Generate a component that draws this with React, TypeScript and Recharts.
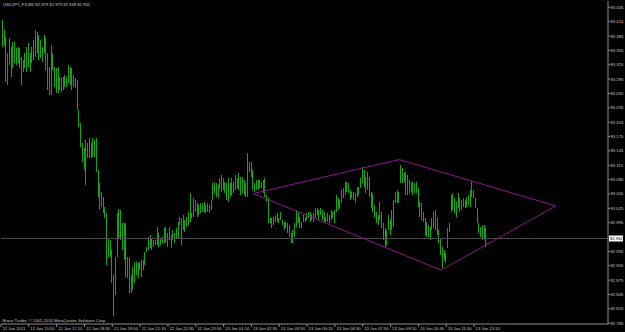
import { ComposedChart, Bar, XAxis, YAxis, ReferenceLine } from 'recharts';

const symbol = 'USDJPY_FX,M5';
const headerQuote = ['82.979', '82.979', '82.948', '82.962'];
const footerText = 'Broco Trader, \u00a9 2001-2010 MetaQuotes Software Corp.';
const lastPrice = 82.962;

const timeLabels = [
  '12 Jan 2011', '12 Jan 15:50', '12 Jan 17:10', '12 Jan 18:30', '12 Jan 19:50', '12 Jan 21:10',
  '12 Jan 22:30', '12 Jan 23:50', '13 Jan 01:10', '13 Jan 02:30', '13 Jan 03:50', '13 Jan 05:10',
  '13 Jan 06:30', '13 Jan 07:50', '13 Jan 09:10', '13 Jan 10:30', '13 Jan 11:50', '13 Jan 13:10',
];
const timeTickBars = [0, 16, 32, 48, 64, 80, 96, 112, 128, 144, 160, 176, 192, 208, 224, 240, 256, 272];

const priceTicks = [
  83.445, 83.415, 83.385, 83.355, 83.325, 83.295, 83.265, 83.235, 83.205, 83.175, 83.145, 83.115,
  83.085, 83.055, 83.025, 82.995, 82.935, 82.905, 82.875, 82.845, 82.815, 82.785,
];

// M5 bar highs / lows
const highs = [
  83.412, 83.418, 83.398, 83.383, 83.349, 83.381, 83.362, 83.372, 83.372, 83.360,
  83.362, 83.360, 83.341, 83.335, 83.349, 83.362, 83.370, 83.349, 83.362, 83.377,
  83.398, 83.393, 83.387, 83.377, 83.362, 83.387, 83.381, 83.349, 83.320, 83.366,
  83.349, 83.320, 83.318, 83.320, 83.299, 83.297, 83.299, 83.304, 83.299, 83.324,
  83.320, 83.318, 83.304, 83.297, 83.293, 83.230, 83.203, 83.162, 83.151, 83.168,
  83.162, 83.172, 83.162, 83.172, 83.168, 83.172, 83.105, 83.078, 83.059, 83.049,
  83.028,
  83.015, 82.963, 82.959, 82.938, 82.886, 82.923, 83.015, 83.024, 83.021, 82.994,
  82.994, 82.994, 82.923, 82.923, 82.886, 82.902, 82.913, 82.913, 82.911, 82.913,
  82.917, 82.917, 82.934, 82.944, 82.965, 82.969, 82.963, 82.959, 82.959, 82.986,
  82.973, 82.963, 82.965, 82.984, 82.986, 82.973, 82.986, 82.969, 82.980, 82.973,
  82.984, 82.996, 83.007, 83.005, 83.011, 83.001, 83.007, 83.017, 83.057, 83.015,
  83.047, 83.042, 83.036, 83.032, 83.036, 83.036, 83.038, 83.032, 83.036, 83.032,
  83.042, 83.078, 83.080, 83.078, 83.074, 83.088, 83.095, 83.088, 83.080, 83.078,
  83.088, 83.078, 83.088, 83.080, 83.095, 83.088,
  83.099, 83.090, 83.090, 83.084, 83.078, 83.141, 83.122, 83.122, 83.105, 83.078,
  83.084, 83.084, 83.084, 83.080, 83.084, 83.088, 83.053, 83.047, 83.005, 83.005,
  83.007, 83.011, 83.015, 83.005, 83.017, 83.001, 82.996, 82.996, 82.994, 82.990,
  82.973, 82.980, 82.994, 83.021, 83.017, 83.007, 82.996, 83.011, 83.007, 83.015,
  83.017, 83.017, 83.011, 83.015, 83.026, 83.026, 83.021, 83.026, 83.021, 83.017,
  83.007, 83.015, 83.011, 83.021, 83.017, 83.021, 83.053, 83.047, 83.042, 83.063,
  83.067, 83.080, 83.080, 83.078, 83.063, 83.059, 83.059, 83.057, 83.070, 83.070,
  83.088, 83.111, 83.105, 83.090,
  83.101, 83.090, 83.059, 83.057, 83.032, 83.017, 83.011, 83.038, 83.017, 82.994,
  82.984, 82.980, 83.011, 83.001, 83.021, 83.042, 83.059, 83.063, 83.059, 83.116,
  83.109, 83.099, 83.101, 83.095, 83.084, 83.080, 83.080, 83.078, 83.080, 83.067,
  83.038, 83.036, 83.017, 83.005, 82.996, 82.990, 82.986, 83.005, 83.017, 83.021,
  83.005, 82.980, 82.963, 82.944, 82.938, 82.932, 82.984, 82.994, 83.053, 83.057,
  83.047, 83.038, 83.057, 83.047, 83.042, 83.047, 83.042, 83.049, 83.053, 83.063,
  83.080, 83.063, 83.047, 83.026, 82.994, 82.986, 82.990, 82.990, 82.984,
];
const lows = [
  83.351, 83.362, 83.366, 83.289, 83.283, 83.324, 83.299, 83.318, 83.329, 83.324,
  83.329, 83.318, 83.283, 83.310, 83.318, 83.310, 83.320, 83.310, 83.329, 83.335,
  83.341, 83.349, 83.335, 83.339, 83.331, 83.349, 83.314, 83.272, 83.262, 83.262,
  83.314, 83.279, 83.266, 83.266, 83.272, 83.268, 83.272, 83.279, 83.279, 83.287,
  83.283, 83.272, 83.279, 83.276, 83.230, 83.195, 83.153, 83.122, 83.105, 83.074,
  83.130, 83.130, 83.130, 83.132, 83.132, 83.101, 83.049, 83.021, 83.028, 83.015,
  83.005,
  82.907, 82.923, 82.923, 82.869, 82.800, 82.844, 82.923, 82.963, 82.959, 82.938,
  82.917, 82.882, 82.880, 82.848, 82.848, 82.854, 82.869, 82.886, 82.880, 82.896,
  82.882, 82.896, 82.907, 82.934, 82.938, 82.942, 82.938, 82.944, 82.948, 82.948,
  82.944, 82.948, 82.953, 82.953, 82.955, 82.944, 82.959, 82.942, 82.959, 82.953,
  82.963, 82.963, 82.990, 82.948, 82.980, 82.976, 82.986, 82.990, 82.996, 83.005,
  83.007, 83.017, 83.007, 83.011, 83.015, 83.017, 83.017, 83.015, 83.017, 83.015,
  83.021, 83.042, 83.057, 83.049, 83.047, 83.067, 83.059, 83.063, 83.057, 83.042,
  83.038, 83.049, 83.053, 83.057, 83.063, 83.067,
  83.063, 83.053, 83.057, 83.053, 83.049, 83.049, 83.101, 83.090, 83.063, 83.059,
  83.063, 83.063, 83.067, 83.067, 83.057, 83.049, 83.038, 82.994, 82.994, 82.984,
  82.990, 82.996, 82.996, 82.994, 83.001, 82.990, 82.980, 82.984, 82.973, 82.965,
  82.953, 82.953, 82.965, 82.986, 82.994, 82.984, 82.984, 82.996, 82.996, 83.001,
  83.005, 82.996, 83.001, 82.996, 83.005, 83.011, 83.001, 83.011, 83.001, 82.996,
  82.996, 82.996, 82.994, 83.001, 83.005, 82.994, 83.017, 83.021, 83.026, 83.036,
  83.047, 83.053, 83.059, 83.057, 83.042, 83.047, 83.042, 83.036, 83.049, 83.053,
  83.067, 83.078, 83.070, 83.057,
  83.063, 83.049, 83.026, 83.017, 83.005, 82.994, 82.990, 83.001, 82.984, 82.959,
  82.944, 82.948, 82.980, 82.969, 82.980, 82.986, 83.036, 83.036, 83.036, 83.078,
  83.078, 83.080, 83.053, 83.053, 83.057, 83.059, 83.053, 83.057, 83.057, 83.028,
  83.007, 83.001, 82.996, 82.969, 82.965, 82.965, 82.959, 82.980, 82.984, 82.980,
  82.969, 82.953, 82.928, 82.900, 82.917, 82.911, 82.942, 82.976, 83.017, 83.021,
  83.015, 83.007, 83.026, 83.017, 83.021, 83.028, 83.026, 83.028, 83.032, 83.028,
  83.049, 83.047, 83.026, 82.994, 82.973, 82.965, 82.959, 82.963, 82.944,
];

// diamond trendlines: [bar index, price]
const diamondLeft = [145, 83.056];
const diamondTop = [229, 83.127];
const diamondRight = [319, 83.03];
const diamondBottom = [253, 82.896];

const data = highs.map((h, i) => ({ bar: i, range: [lows[i], h] }));

const AXIS = '#8c8c8c';
const TEXT = '#c8c8c8';
const FONT = 'Liberation Sans, Arial, sans-serif';
const MAGENTA = '#8e168e';
const GREEN = '#10a810';

const TimeTick = (props: any) => {
  const { x, y, payload } = props;
  const label = timeLabels[timeTickBars.indexOf(payload.value)];
  return (
    <text x={x + 1.5} y={y} dy={3.4} fill={TEXT} fontSize={4.2} fontFamily={FONT} textAnchor="start">
      {label}
    </text>
  );
};

const PriceBox = (props: any) => {
  const { viewBox } = props;
  const left = viewBox.x + viewBox.width + 1;
  return (
    <g>
      <rect x={left} y={viewBox.y - 3} width={14} height={6} fill="#ffffff" />
      <text x={left + 1} y={viewBox.y} dy={1.5} fill="#000" fontSize={4.2} fontFamily={FONT}>
        {lastPrice.toFixed(3)}
      </text>
    </g>
  );
};

// thin high-low stick, snapped to the pixel grid
const Stick = (props: any) => {
  const { x, y, width, height } = props;
  return <rect x={x} y={y} width={width} height={Math.max(height, 1)} fill={GREEN} shapeRendering="crispEdges" />;
};

const seg = (a: number[], b: number[]) => [
  { x: a[0], y: a[1] },
  { x: b[0], y: b[1] },
];

export default function App() {
  return (
    <div style={{ position: 'fixed', left: 0, top: 0, width: 625, height: 332, background: '#000' }}>
      <ComposedChart width={625} height={332} data={data} margin={{ top: 1, right: 0, bottom: 0, left: 1 }}>
        <XAxis
          dataKey="bar"
          type="number"
          domain={[0, 349]}
          allowDataOverflow
          ticks={timeTickBars}
          interval={0}
          height={8}
          tickSize={3}
          tickMargin={0}
          axisLine={{ stroke: AXIS }}
          tickLine={{ stroke: AXIS }}
          tick={<TimeTick />}
        />
        <XAxis xAxisId="top" orientation="top" type="number" domain={[0, 349]} height={0} tick={false} tickLine={false} axisLine={{ stroke: AXIS }} />
        <YAxis
          orientation="right"
          type="number"
          domain={[82.7834, 83.4582]}
          allowDataOverflow
          ticks={priceTicks}
          interval={0}
          width={17}
          tickSize={2}
          tickMargin={0.5}
          axisLine={{ stroke: AXIS }}
          tickLine={{ stroke: AXIS }}
          tick={{ fill: TEXT, fontSize: 4.2, fontFamily: FONT }}
          tickFormatter={(v: number) => v.toFixed(3)}
        />
        <YAxis yAxisId="left" orientation="left" type="number" domain={[0, 1]} width={0} tick={false} tickLine={false} axisLine={{ stroke: AXIS }} />
        <ReferenceLine y={lastPrice} stroke="#4a4a4a" strokeWidth={1} label={<PriceBox />} />
        <Bar dataKey="range" barSize={1} fill={GREEN} shape={<Stick />} isAnimationActive={false} />
        <ReferenceLine segment={seg(diamondLeft, diamondTop)} stroke={MAGENTA} ifOverflow="visible" />
        <ReferenceLine segment={seg(diamondTop, diamondRight)} stroke={MAGENTA} ifOverflow="visible" />
        <ReferenceLine segment={seg(diamondRight, diamondBottom)} stroke={MAGENTA} ifOverflow="visible" />
        <ReferenceLine segment={seg(diamondBottom, diamondLeft)} stroke={MAGENTA} ifOverflow="visible" />
      </ComposedChart>
      <svg width={625} height={332} style={{ position: 'absolute', left: 0, top: 0, pointerEvents: 'none' }}>
        <text x={3} y={6} fill={TEXT} fontSize={4.2} fontFamily={FONT}>
          {symbol + '  ' + headerQuote.join(' ')}
        </text>
        <text x={2.5} y={322.3} fill={TEXT} fontSize={4.2} fontFamily={FONT}>
          {footerText}
        </text>
      </svg>
    </div>
  );
}
